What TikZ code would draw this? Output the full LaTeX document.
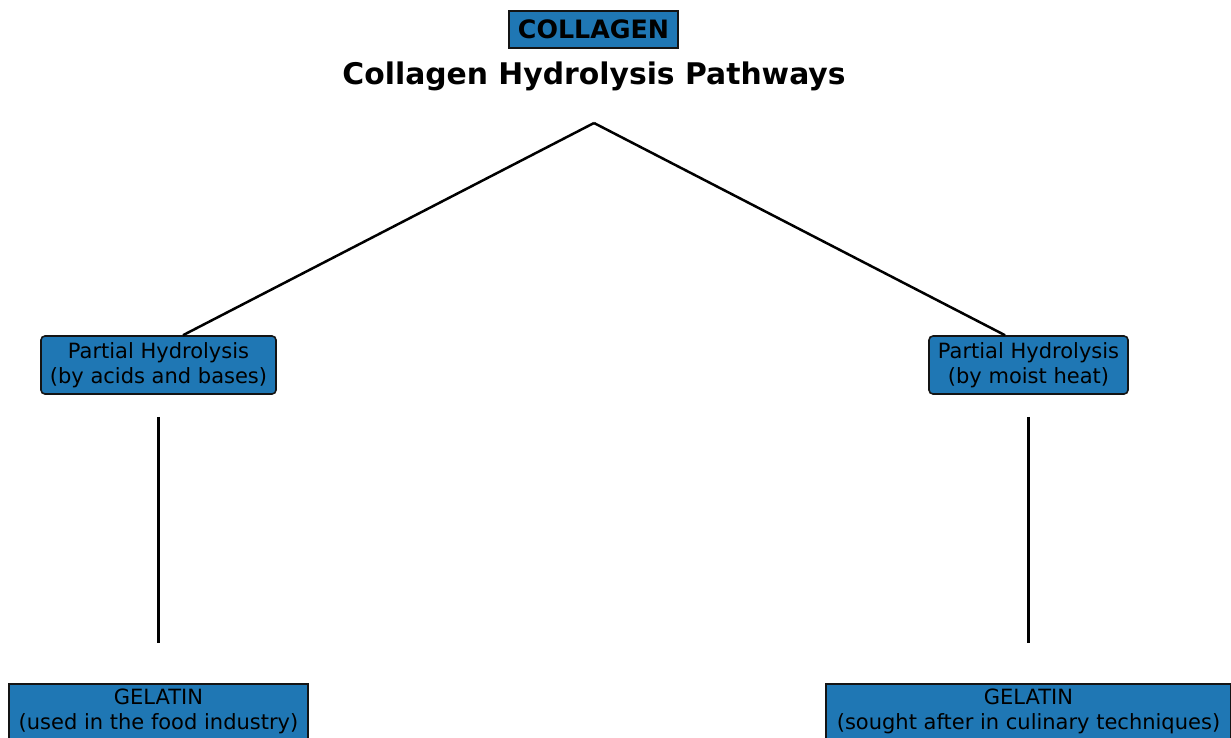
\documentclass[tikz,border=0pt]{standalone}
\usepackage{fontspec}
\setmainfont{DejaVu Sans}
\usetikzlibrary{calc}
\definecolor{boxblue}{RGB}{31,119,180}
\definecolor{edgedark}{RGB}{20,20,20}
\tikzset{
  box/.style={draw=edgedark, line width=1.6pt, fill=boxblue, text=black,
    align=center, inner sep=0pt, font=\fontsize{21}{25.2}\selectfont},
  roundbox/.style={box, rounded corners=4pt},
  label/.style={text=black, align=center, inner sep=0pt, font=\fontsize{21}{25.2}\selectfont},
  link/.style={draw=black, line width=2.5pt},
}
\begin{document}
\begin{tikzpicture}[x=1pt, y=-1pt]
  \useasboundingbox (0,0) rectangle (1231,737);
  \clip (0,0) rectangle (1231,737);

  % header
  \node[box, minimum width=169pt, minimum height=37pt,
        font=\fontsize{25.3}{30}\bfseries\selectfont] (root) at (593.5,29.5) {COLLAGEN};
  \node[font=\fontsize{29.8}{35}\bfseries\selectfont, inner sep=0pt] (title) at (594,76.5)
    {Collagen Hydrolysis Pathways};
  \coordinate (apex) at (594,123);

  % hydrolysis routes
  \node[roundbox, minimum width=235pt, minimum height=58pt] (pl) at (158.5,365)
    {Partial Hydrolysis\\(by acids and bases)};
  \node[roundbox, minimum width=199pt, minimum height=58pt] (pr) at (1028.5,365)
    {Partial Hydrolysis\\(by moist heat)};

  % products: the boxes run past the lower page edge
  \node[box, minimum width=299pt, minimum height=70pt, anchor=north] (gl) at (158.5,683) {};
  \node[box, minimum width=405pt, minimum height=70pt, anchor=north] (gr) at (1028.5,683) {};
  \node[label] (gltext) at (158.5,711.5) {GELATIN\\(used in the food industry)};
  \node[label] (grtext) at (1028.5,711.5) {GELATIN\\(sought after in culinary techniques)};

  % connectors
  \draw[link] (apex) -- ($(pl.north)+(24.5,0)$);
  \draw[link] (apex) -- ($(pr.north)+(-23.5,0)$);
  \draw[link] ($(pl.south)+(0,22)$) -- ($(gl.north)+(0,-40)$);
  \draw[link] ($(pr.south)+(0,22)$) -- ($(gr.north)+(0,-40)$);
\end{tikzpicture}
\end{document}
